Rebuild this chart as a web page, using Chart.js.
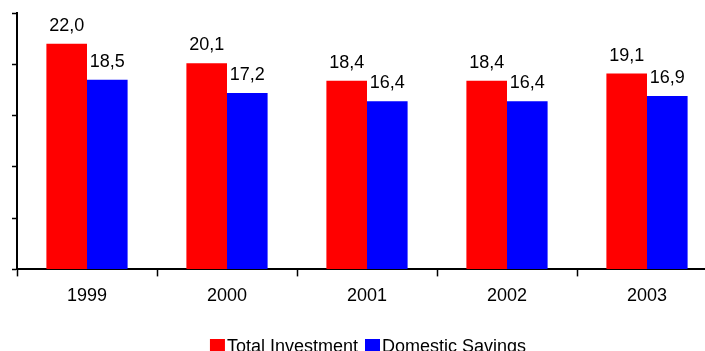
<!DOCTYPE html>
<html>
<head>
<meta charset="utf-8">
<script src="https://cdn.jsdelivr.net/npm/chart.js@4/dist/chart.umd.min.js"></script>
<style>
  html, body { margin: 0; padding: 0; background: #fff; overflow: hidden; }
  #wrap { width: 720px; height: 351px; }
</style>
</head>
<body>
<div id="wrap"><canvas id="c" width="720" height="351"></canvas></div>
<script>
var years = ['1999', '2000', '2001', '2002', '2003'];
var totalInvestment = [22.0, 20.1, 18.4, 18.4, 19.1];
var domesticSavings = [18.5, 17.2, 16.4, 16.4, 16.9];
var seriesNames = ['Total Investment', 'Domestic Savings'];

Chart.defaults.font.family = '"Liberation Sans", Arial, sans-serif';
Chart.defaults.color = '#000';

// value labels above each bar, comma as decimal mark
var barLabels = {
    id: 'barLabels',
    afterDatasetsDraw: function (chart) {
        var ctx = chart.ctx;
        ctx.save();
        ctx.font = '18px "Liberation Sans", Arial, sans-serif';
        ctx.fillStyle = '#000';
        ctx.textAlign = 'center';
        ctx.textBaseline = 'alphabetic';
        chart.data.datasets.forEach(function (ds, i) {
            chart.getDatasetMeta(i).data.forEach(function (bar, j) {
                ctx.fillText(ds.data[j].toFixed(1).replace('.', ','), bar.x, bar.y - 13);
            });
        });
        ctx.restore();
    }
};

// legend drawn by hand: Excel puts the text right against the box
var boxLegend = {
    id: 'boxLegend',
    afterDraw: function (chart) {
        var ctx = chart.ctx;
        ctx.save();
        ctx.font = '18px "Liberation Sans", Arial, sans-serif';
        ctx.textBaseline = 'alphabetic';
        var box = 15, gap = 2, space = 7;
        var total = 0;
        chart.data.datasets.forEach(function (ds) {
            total += box + gap + ctx.measureText(ds.label).width;
        });
        total += space * (chart.data.datasets.length - 1);
        var x = 368 - total / 2, y = 339;
        chart.data.datasets.forEach(function (ds) {
            ctx.fillStyle = ds.backgroundColor;
            ctx.fillRect(x, y, box, box);
            x += box + gap;
            ctx.fillStyle = '#000';
            ctx.fillText(ds.label, x, y + 13);
            x += ctx.measureText(ds.label).width + space;
        });
        ctx.restore();
    }
};

new Chart(document.getElementById('c').getContext('2d'), {
    type: 'bar',
    data: {
        labels: years,
        datasets: [{
            label: seriesNames[0],
            data: totalInvestment,
            backgroundColor: '#ff0000',
            categoryPercentage: 0.58,
            barPercentage: 1
        }, {
            label: seriesNames[1],
            data: domesticSavings,
            backgroundColor: '#0000ff',
            categoryPercentage: 0.58,
            barPercentage: 1
        }]
    },
    options: {
        responsive: false,
        animation: false,
        layout: { padding: { left: 12, right: 3, top: 13, bottom: 35 } },
        plugins: {
            legend: { display: false },
            tooltip: { enabled: false }
        },
        scales: {
            x: {
                grid: {
                    drawOnChartArea: false,
                    drawTicks: true,
                    tickLength: 7,
                    tickColor: '#000',
                    tickWidth: 1.5
                },
                border: { display: true, color: '#000', width: 2 },
                ticks: { font: { size: 18 }, color: '#000', padding: 9 }
            },
            y: {
                min: 0,
                max: 25,
                ticks: { stepSize: 5, display: false },
                grid: {
                    drawOnChartArea: false,
                    drawTicks: true,
                    tickLength: 5,
                    tickColor: '#000',
                    tickWidth: 1.5
                },
                border: { display: true, color: '#000', width: 2 }
            }
        }
    },
    plugins: [barLabels, boxLegend]
});
</script>
</body>
</html>
